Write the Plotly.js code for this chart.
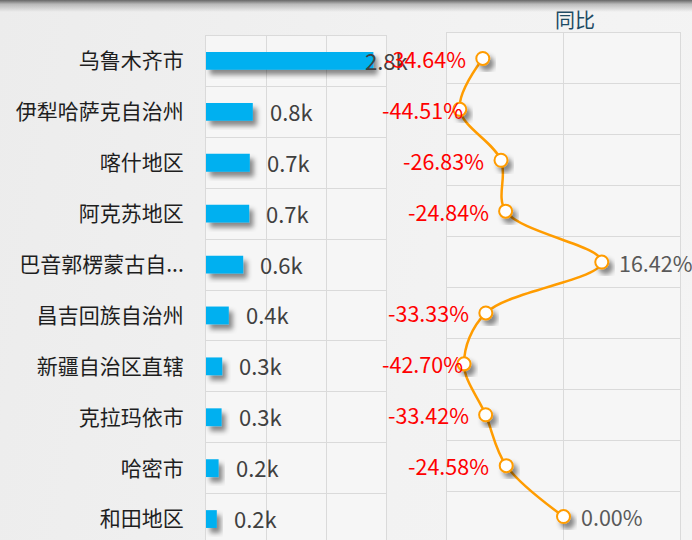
<!DOCTYPE html>
<html>
<head>
<meta charset="utf-8">
<script src="https://cdn.plot.ly/plotly-3.0.1.min.js"></script>
<style>
  html, body { margin: 0; padding: 0; width: 692px; height: 540px; overflow: hidden; background: linear-gradient(100deg, #ececec 0%, #f2f2f2 60%, #f4f4f4 100%); }
  #chart { position: absolute; left: 0; top: 0; width: 692px; height: 540px; }
  #topshade { position: absolute; left: 0; top: 0; width: 692px; height: 12px; pointer-events: none;
    background: linear-gradient(to bottom, rgba(95,95,95,0.95) 0%, rgba(150,150,150,0.6) 35%, rgba(235,235,235,0) 100%); }
</style>
</head>
<body>
<div id="chart"></div>
<div id="topshade"></div>
<script>
// ---- data ----
const categories = ['乌鲁木齐市','伊犁哈萨克自治州','喀什地区','阿克苏地区','巴音郭楞蒙古自...','昌吉回族自治州','新疆自治区直辖','克拉玛依市','哈密市','和田地区'];
const amounts = [2790, 780, 730, 720, 620, 380, 270, 260, 210, 180];
const amountLabels = ['2.8k','0.8k','0.7k','0.7k','0.6k','0.4k','0.3k','0.3k','0.2k','0.2k'];
const yoy = [-34.64, -44.51, -26.83, -24.84, 16.42, -33.33, -42.70, -33.42, -24.58, 0.00];
const yoyLabels = yoy.map(v => v.toFixed(2) + '%');
const titleText = '同比';

// ---- styles ----
const FONT = '"Noto Sans CJK SC", "Microsoft YaHei", sans-serif';
const W = 692, H = 540;
const gridC = '#dadada';
const orange = '#ff9c00';

const barTrace = {
  type: 'bar', orientation: 'h',
  x: amounts, y: categories,
  xaxis: 'x', yaxis: 'y',
  width: 0.35,
  marker: { color: '#00b0f0' },
  hoverinfo: 'skip'
};
const lineTrace = {
  type: 'scatter', mode: 'lines+markers',
  x: yoy, y: categories,
  xaxis: 'x2', yaxis: 'y2',
  line: { color: orange, width: 2.5, shape: 'spline', smoothing: 1 },
  marker: { size: 13, color: '#ffffff', line: { color: orange, width: 2 } },
  cliponaxis: false,
  hoverinfo: 'skip'
};

const annotations = [];
amounts.forEach((v, i) => {
  annotations.push({
    x: v, y: categories[i], xref: 'x', yref: 'y',
    text: amountLabels[i], showarrow: false,
    xanchor: 'left', yanchor: 'middle', xshift: 15, yshift: 1,
    font: { family: FONT, size: 22, color: '#404040' }
  });
});
yoy.forEach((v, i) => {
  const neg = v < 0;
  annotations.push({
    x: v, y: categories[i], xref: 'x2', yref: 'y2',
    text: yoyLabels[i], showarrow: false,
    xanchor: neg ? 'right' : 'left', yanchor: 'middle', xshift: neg ? -15 : 15, yshift: 0,
    font: { family: FONT, size: 21.5, color: neg ? '#ff0000' : '#595959' }
  });
});
annotations.push({
  x: 575 / W, y: 1 - 20 / H, xref: 'paper', yref: 'paper',
  text: titleText, showarrow: false, xanchor: 'center', yanchor: 'middle',
  font: { family: FONT, size: 20, color: '#1d4b64' }
});

const rowPx = 50.9;
const y1Top = 35.5, y2Top = 33;
const layout = {
  width: W, height: H,
  margin: { l: 0, r: 0, t: 0, b: 0, pad: 0 },
  paper_bgcolor: 'rgba(0,0,0,0)',
  plot_bgcolor: '#f6f6f6',
  showlegend: false,
  font: { family: FONT },
  xaxis: {
    domain: [206 / W, 386 / W], range: [0, 3000], dtick: 1000,
    showticklabels: false, ticks: '', showgrid: true, gridcolor: gridC, gridwidth: 1,
    zeroline: false, showline: true, linecolor: gridC, mirror: true, fixedrange: true
  },
  yaxis: {
    domain: [0, 1 - y1Top / H], type: 'category',
    range: [-0.5 + (H - y1Top) / rowPx, -0.5],
    tickson: 'boundaries', ticks: '', showgrid: true, gridcolor: gridC,
    showline: true, linecolor: gridC, mirror: true,
    ticklabelstandoff: 17,
    tickfont: { family: FONT, size: 21, color: '#1e1e1e' }, fixedrange: true
  },
  xaxis2: {
    domain: [447 / W, 680 / W], range: [-50, 50], dtick: 50, anchor: 'y2',
    showticklabels: false, ticks: '', showgrid: true, gridcolor: gridC,
    zeroline: false, showline: true, linecolor: gridC, mirror: true, fixedrange: true
  },
  yaxis2: {
    domain: [0, 1 - y2Top / H], type: 'category', anchor: 'x2',
    range: [-0.5 + (H - y2Top) / rowPx, -0.5],
    tickson: 'boundaries', ticks: '', showgrid: true, gridcolor: gridC,
    showticklabels: false, showline: true, linecolor: gridC, mirror: true, fixedrange: true
  },
  annotations: annotations
};

const gd = document.getElementById('chart');
Plotly.newPlot(gd, [barTrace, lineTrace], layout, { staticPlot: true }).then(() => {
  // keep labels inside the drawing band like the reference renderer
  const upd = {};
  const nodes = gd.querySelectorAll('.annotation');
  const gdRect = gd.getBoundingClientRect();
  nodes.forEach(n => {
    const idx = +n.getAttribute('data-index');
    const t = n.querySelector('text');
    if (!t) return;
    const r = t.getBoundingClientRect();
    const left = r.left - gdRect.left, right = r.right - gdRect.left;
    const a = annotations[idx];
    if (a.xref === 'x' && right > 407) upd['annotations[' + idx + '].xshift'] = a.xshift - (right - 407);
    if (a.xref === 'x2' && a.xanchor === 'right' && left < 382) upd['annotations[' + idx + '].xshift'] = a.xshift + (382 - left);
  });
  return Object.keys(upd).length ? Plotly.relayout(gd, upd) : null;
}).then(() => {
  const svg = gd.querySelector('.main-svg');
  const ns = 'http://www.w3.org/2000/svg';
  let defs = svg.querySelector('defs');
  if (!defs) { defs = document.createElementNS(ns, 'defs'); svg.insertBefore(defs, svg.firstChild); }
  const f = document.createElementNS(ns, 'filter');
  f.setAttribute('id', 'dropsh');
  f.setAttribute('x', '-50%'); f.setAttribute('y', '-50%');
  f.setAttribute('width', '200%'); f.setAttribute('height', '200%');
  const ds = document.createElementNS(ns, 'feDropShadow');
  ds.setAttribute('dx', '4'); ds.setAttribute('dy', '5');
  ds.setAttribute('stdDeviation', '2.5');
  ds.setAttribute('flood-color', '#000'); ds.setAttribute('flood-opacity', '0.45');
  f.appendChild(ds); defs.appendChild(f);
  gd.querySelectorAll('.barlayer .point path').forEach(p => p.setAttribute('filter', 'url(#dropsh)'));
  gd.querySelectorAll('.scatterlayer .points path').forEach(p => p.setAttribute('filter', 'url(#dropsh)'));
});
</script>
</body>
</html>
